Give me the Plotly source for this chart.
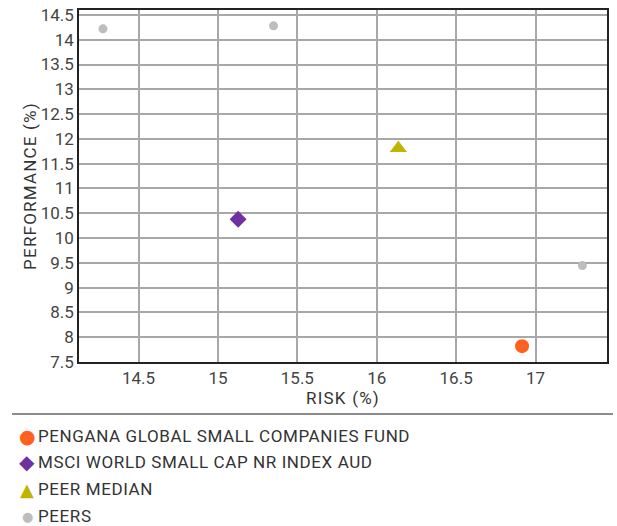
import plotly.graph_objects as go

# Data
fund_name = "PENGANA GLOBAL SMALL COMPANIES FUND"
fund_risk = [16.915]
fund_perf = [7.82]

index_name = "MSCI WORLD SMALL CAP NR INDEX AUD"
index_risk = [15.127]
index_perf = [10.38]

median_name = "PEER MEDIAN"
median_risk = [16.136]
median_perf = [11.81]

peers_name = "PEERS"
peers_risk = [14.276, 15.35, 17.295]
peers_perf = [14.22, 14.28, 9.445]

x_ticks = [14.5, 15, 15.5, 16, 16.5, 17]
x_labels = ["14.5", "15", "15.5", "16", "16.5", "17"]
y_ticks = [7.5, 8, 8.5, 9, 9.5, 10, 10.5, 11, 11.5, 12, 12.5, 13, 13.5, 14, 14.5]
y_labels = ["7.5", "8", "8.5", "9", "9.5", "10", "10.5", "11", "11.5", "12", "12.5", "13", "13.5", "14", "14.5"]

FONT = "Roboto"
TXT = "#333333"
W, H = 617, 526
ML, MR, MT, MB = 79, 10, 10, 164

fig = go.Figure()
fig.add_trace(go.Scatter(x=peers_risk, y=peers_perf, mode="markers", name=peers_name,
                         marker=dict(symbol="circle", size=9, color="#bdbdbd")))
fig.add_trace(go.Scatter(x=median_risk, y=median_perf, mode="markers", name=median_name,
                         marker=dict(symbol="triangle-up", size=15, color="#c0b400")))
fig.add_trace(go.Scatter(x=index_risk, y=index_perf, mode="markers", name=index_name,
                         marker=dict(symbol="diamond", size=13, color="#7030a0")))
fig.add_trace(go.Scatter(x=fund_risk, y=fund_perf, mode="markers", name=fund_name,
                         marker=dict(symbol="circle", size=14, color="#ff5f1f")))

axis_common = dict(showgrid=True, gridcolor="#a8a8a8", gridwidth=1.5,
                   showline=True, linecolor="#222222", linewidth=1.5, mirror=True,
                   zeroline=False, ticks="",
                   tickfont=dict(family=FONT, size=17, color="#444444"))

fig.update_xaxes(range=[14.125, 17.45], tickvals=x_ticks, ticktext=x_labels,
                 title=dict(text="<span style='letter-spacing:1.2px'>RISK (%)</span>",
                            font=dict(family=FONT, size=17, color=TXT), standoff=4),
                 **axis_common)
fig.update_yaxes(range=[7.5, 14.6], tickvals=y_ticks, ticktext=y_labels,
                 title=dict(text="<span style='letter-spacing:1.2px'>PERFORMANCE (%)</span>",
                            font=dict(family=FONT, size=17, color=TXT), standoff=0),
                 **axis_common)

plot_h = H - MT - MB
plot_w = W - ML - MR

def px_x(p):
    return (p - ML) / plot_w

def px_y(p):
    return 1 - (p - MT) / plot_h

# Legend as annotations below separator line
legend_rows = [
    ("#ff5f1f", "●", 19, fund_name, 436),
    ("#7030a0", "◆", 20, index_name, 462),
    ("#c0b400", "▲", 18, median_name, 489),
    ("#bdbdbd", "●", 13, peers_name, 516),
]
annotations = []
for color, sym, ssize, label, ypix in legend_rows:
    annotations.append(dict(
        xref="paper", yref="paper", x=px_x(27), y=px_y(ypix),
        xanchor="center", yanchor="middle", showarrow=False,
        text=sym, font=dict(family="DejaVu Sans", size=ssize, color=color)))
    annotations.append(dict(
        xref="paper", yref="paper", x=px_x(36), y=px_y(ypix),
        xanchor="left", yanchor="middle", showarrow=False,
        text=f"<span style='letter-spacing:0.6px'>{label}</span>",
        font=dict(family=FONT, size=17, color=TXT)))

fig.update_layout(
    width=W, height=H,
    margin=dict(l=ML, r=MR, t=MT, b=MB, autoexpand=False),
    paper_bgcolor="white", plot_bgcolor="white",
    showlegend=False,
    annotations=annotations,
    shapes=[dict(type="line", xref="paper", yref="paper",
                 x0=px_x(12), x1=px_x(613), y0=px_y(414), y1=px_y(414),
                 line=dict(color="#666666", width=1.5))],
)

fig.write_html("out.html")
